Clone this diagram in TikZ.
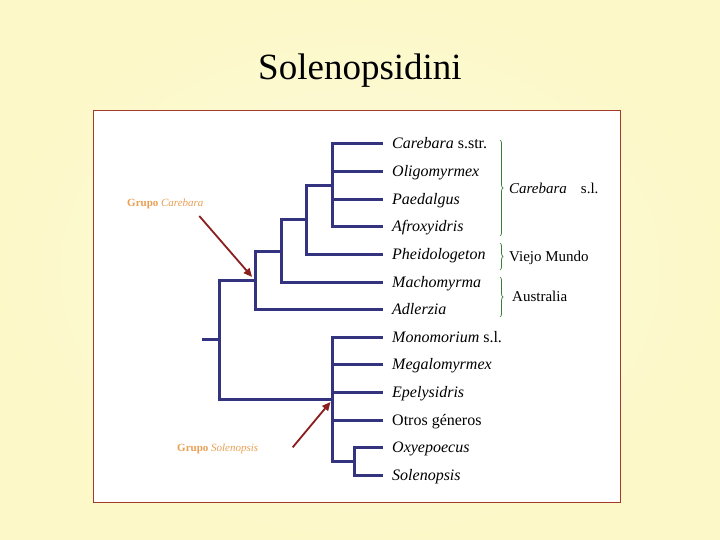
\documentclass[tikz,border=0pt]{standalone}
\usepackage{fontspec}
\setmainfont{Liberation Serif}
\usetikzlibrary{arrows.meta,decorations.pathreplacing}
\definecolor{bgin}{HTML}{FDFBDF}
\definecolor{bgout}{HTML}{FCF8C8}
\definecolor{boxred}{HTML}{A33A2C}
\definecolor{treeblue}{HTML}{33337F}
\definecolor{bracegreen}{HTML}{3A7A3A}
\definecolor{arrowred}{HTML}{8B1E1E}
\definecolor{grupoorange}{HTML}{E9A055}
\tikzset{
  branch/.style={draw=treeblue,line width=3pt},
  leaflabel/.style={anchor=base west,inner sep=0pt,font=\fontsize{16}{18}\selectfont},
  sidelabel/.style={anchor=base west,inner sep=0pt,font=\fontsize{15}{17}\selectfont},
  grupolabel/.style={anchor=base west,inner sep=0pt,text=grupoorange,font=\fontsize{11}{13}\selectfont},
  groupbrace/.style={draw=bracegreen,line width=0.7pt,decorate,decoration={brace,amplitude=3pt}},
  pointer/.style={draw=arrowred,line width=1.8pt,-{Triangle[length=8.5pt,width=7.5pt]}},
}
\begin{document}
\begin{tikzpicture}[x=1pt,y=-1pt]
\useasboundingbox (0,0) rectangle (720,540);
\shade[inner color=bgin,outer color=bgout] (0,0) rectangle (720,540);
\node[anchor=base,inner sep=0pt,font=\fontsize{37}{41}\selectfont] (title) at (360,80) {Solenopsidini};
\draw[boxred,line width=1.2pt,fill=white] (93.3,110.7) rectangle (620.7,502.3);

% leaf ends
\coordinate (l1) at (383,144);
\coordinate (l2) at (383,171.6);
\coordinate (l3) at (383,199.2);
\coordinate (l4) at (383,226.8);
\coordinate (l5) at (383,254.4);
\coordinate (l6) at (383,282);
\coordinate (l7) at (383,309.6);
\coordinate (l8) at (383,337.2);
\coordinate (l9) at (383,364.8);
\coordinate (l10) at (383,392.4);
\coordinate (l11) at (383,420);
\coordinate (l12) at (383,447.6);
\coordinate (l13) at (383,475.2);
% internal nodes
\coordinate (nA) at (332.7,185.4);
\coordinate (nB) at (306.7,219.9);
\coordinate (nC) at (281,251);
\coordinate (nD) at (255,280.3);
\coordinate (nE) at (354,461.4);
\coordinate (nF) at (332.7,399.3);
\coordinate (nR) at (219.3,339.8);
\coordinate (stub) at (201.7,339.8);

\draw[branch] (nA) |- (l1);
\draw[branch] (nA) |- (l2);
\draw[branch] (nA) |- (l3);
\draw[branch] (nA) |- (l4);
\draw[branch] (nB) |- (nA);
\draw[branch] (nB) |- (l5);
\draw[branch] (nC) |- (nB);
\draw[branch] (nC) |- (l6);
\draw[branch] (nD) |- (nC);
\draw[branch] (nD) |- (l7);
\draw[branch] (nE) |- (l12);
\draw[branch] (nE) |- (l13);
\draw[branch] (nF) |- (l8);
\draw[branch] (nF) |- (l9);
\draw[branch] (nF) |- (l10);
\draw[branch] (nF) |- (l11);
\draw[branch] (nF) |- (nE);
\draw[branch] (nR) |- (nD);
\draw[branch] (nR) |- (nF);
\draw[branch] (stub) -- (nR);

% leaf labels
\node[leaflabel] (t1) at (392,149) {\textit{Carebara} s.str.};
\node[leaflabel] (t2) at (392,176.6) {\textit{Oligomyrmex}};
\node[leaflabel] (t3) at (392,204.2) {\textit{Paedalgus}};
\node[leaflabel] (t4) at (392,231.8) {\textit{Afroxyidris}};
\node[leaflabel] (t5) at (392,259.4) {\textit{Pheidologeton}};
\node[leaflabel] (t6) at (392,287) {\textit{Machomyrma}};
\node[leaflabel] (t7) at (392,314.6) {\textit{Adlerzia}};
\node[leaflabel] (t8) at (392,342.2) {\textit{Monomorium} s.l.};
\node[leaflabel] (t9) at (392,369.8) {\textit{Megalomyrmex}};
\node[leaflabel] (t10) at (392,397.4) {\textit{Epelysidris}};
\node[leaflabel] (t11) at (392,425) {Otros géneros};
\node[leaflabel] (t12) at (392,452.6) {\textit{Oxyepoecus}};
\node[leaflabel] (t13) at (392,480.2) {\textit{Solenopsis}};

% braces
\coordinate (b1t) at (500,140);
\coordinate (b1b) at (500,236);
\coordinate (b2t) at (500,243);
\coordinate (b2b) at (500,270);
\coordinate (b3t) at (500,277);
\coordinate (b3b) at (500,317);
\draw[groupbrace] (b1t) -- (b1b);
\draw[groupbrace] (b2t) -- (b2b);
\draw[groupbrace] (b3t) -- (b3b);
\node[sidelabel] (s1) at (509,194) {\textit{Carebara}\hspace{14pt}s.l.};
\node[sidelabel] (s2) at (509,261) {Viejo Mundo};
\node[sidelabel] (s3) at (512,301) {Australia};

% group pointers
\node[grupolabel] (g1) at (127,206.5) {\textbf{Grupo} \textit{Carebara}};
\node[grupolabel] (g2) at (177,451) {\textbf{Grupo} \textit{Solenopsis}};
\coordinate (a1) at (199.3,216);
\coordinate (a2) at (292.7,447.3);
\draw[pointer,shorten >=4.5pt] (a1) -- (nD);
\draw[pointer,shorten >=3.5pt] (a2) -- (nF);
\end{tikzpicture}
\end{document}
